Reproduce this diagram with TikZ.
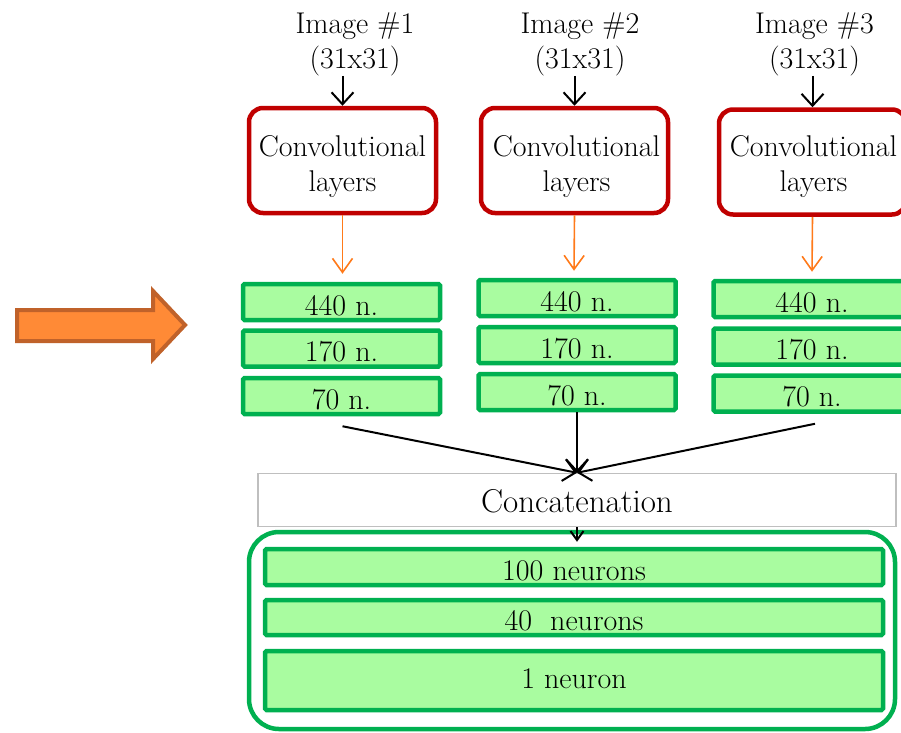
\documentclass[tikz,border=0pt]{standalone}
\usetikzlibrary{arrows.meta,calc}
\definecolor{convred}{HTML}{C00000}
\definecolor{gborder}{HTML}{00B050}
\definecolor{gfill}{HTML}{A9FCA0}
\definecolor{oarrow}{HTML}{FF7A1A}
\definecolor{bigfill}{HTML}{FF8A36}
\definecolor{bigdraw}{HTML}{C0622A}
\definecolor{cgray}{HTML}{BFBFBF}
\newcommand\fsA{\fontsize{30}{35}\selectfont}
\newcommand\fsB{\fontsize{33}{38}\selectfont}
\begin{document}
\begin{tikzpicture}[x=1pt,y=-1pt,
  convbox/.style={draw=convred, line width=4.5pt, rounded corners=14pt, minimum width=187pt, minimum height=105pt, inner sep=0pt},
  lbl/.style={font=\fsA, align=center, inner sep=0pt},
  layerbox/.style={draw=gborder, fill=gfill, line width=4.5pt, rounded corners=1.5pt, minimum width=197pt, minimum height=36pt, inner sep=0pt, font=\fsA, text height=26pt, text depth=0pt},
  densebox/.style={layerbox, minimum width=618pt},
  concatbox/.style={draw=cgray, line width=1.5pt, minimum width=638pt, minimum height=53pt, inner sep=0pt, font=\fsB, text height=24pt, text depth=0pt},
  bigbox/.style={draw=gborder, line width=4.5pt, rounded corners=30pt, minimum width=646pt, minimum height=197pt, inner sep=0pt},
  blackarr/.style={draw=black, line width=2pt, -{Straight Barb[length=12pt,width=22pt]}},
  smallarr/.style={draw=black, line width=2pt, -{Straight Barb[length=9pt,width=13pt]}},
  orangearr/.style={draw=oarrow, line width=1.6pt, -{Straight Barb[length=14pt,width=20pt]}},
  bigarrow/.style={fill=bigfill, draw=bigdraw, line width=4pt, line join=miter}
]
\useasboundingbox (0,0) rectangle (901,732);

% big orange arrow
\draw[bigarrow] (17,310) -- (153,310) -- (153,291) -- (185,325) -- (153,359) -- (153,341) -- (17,341) -- cycle;

% image labels
\node[lbl] (img1) at (355,43.9) {Image \#1\\(31x31)};
\node[lbl] (img2) at (580,43.9) {Image \#2\\(31x31)};
\node[lbl] (img3) at (814.5,43.9) {Image \#3\\(31x31)};

% convolutional boxes
\node[convbox] (conv1) at (342.5,160.5) {};
\node[convbox] (conv2) at (574.5,160.5) {};
\node[convbox] (conv3) at (812.5,162) {};
\node[lbl] (conv1t) at (342.5,167) {Convolutional\\layers};
\node[lbl] (conv2t) at (576.5,167) {Convolutional\\layers};
\node[lbl] (conv3t) at (813.5,167) {Convolutional\\layers};

% layer boxes column 1
\node[layerbox] (a1) at (341.5,302) {440 n.};
\node[layerbox] (b1) at (341.5,348.5) {170 n.};
\node[layerbox] (c1) at (341.5,396) {70 n.};
% column 2
\node[layerbox] (a2) at (577,298) {440 n.};
\node[layerbox] (b2) at (577,345) {170 n.};
\node[layerbox] (c2) at (577,392) {70 n.};
% column 3
\node[layerbox] (a3) at (812,299) {440 n.};
\node[layerbox] (b3) at (812,346.5) {170 n.};
\node[layerbox] (c3) at (812,393.5) {70 n.};

% concatenation
\node[concatbox] (concat) at (577,500) {Concatenation};

% dense part
\node[bigbox] (big) at (572,630.5) {};
\node[densebox] (d1) at (574,567) {100 neurons};
\node[densebox, minimum height=35pt] (d2) at (574,617.5) {40\ \ neurons};
\node[densebox, minimum height=59pt, text height=15pt] (d3) at (574,680.5) {1 neuron};

% connectors
\draw[blackarr] (img1.south -| conv1.north) -- (conv1.north);
\draw[blackarr] (img2.south -| conv2.north) -- (conv2.north);
\draw[blackarr] (img3.south -| conv3.north) -- (conv3.north);

\draw[orangearr] (conv1.south) -- ($(a1.north)+(1,-8)$);
\draw[orangearr] (conv2.south) -- ($(a2.north)+(-3,-7)$);
\draw[orangearr] (conv3.south) -- ($(a3.north)+(0,-7)$);

\draw[blackarr] ($(c1.south)+(1,10)$) -- (concat.north);
\draw[blackarr] (c2.south) -- (concat.north);
\draw[blackarr] ($(c3.south)+(3,10)$) -- (concat.north);

\draw[smallarr] (concat.south) -- ($(big.north)+(5,12)$);
\end{tikzpicture}
\end{document}
